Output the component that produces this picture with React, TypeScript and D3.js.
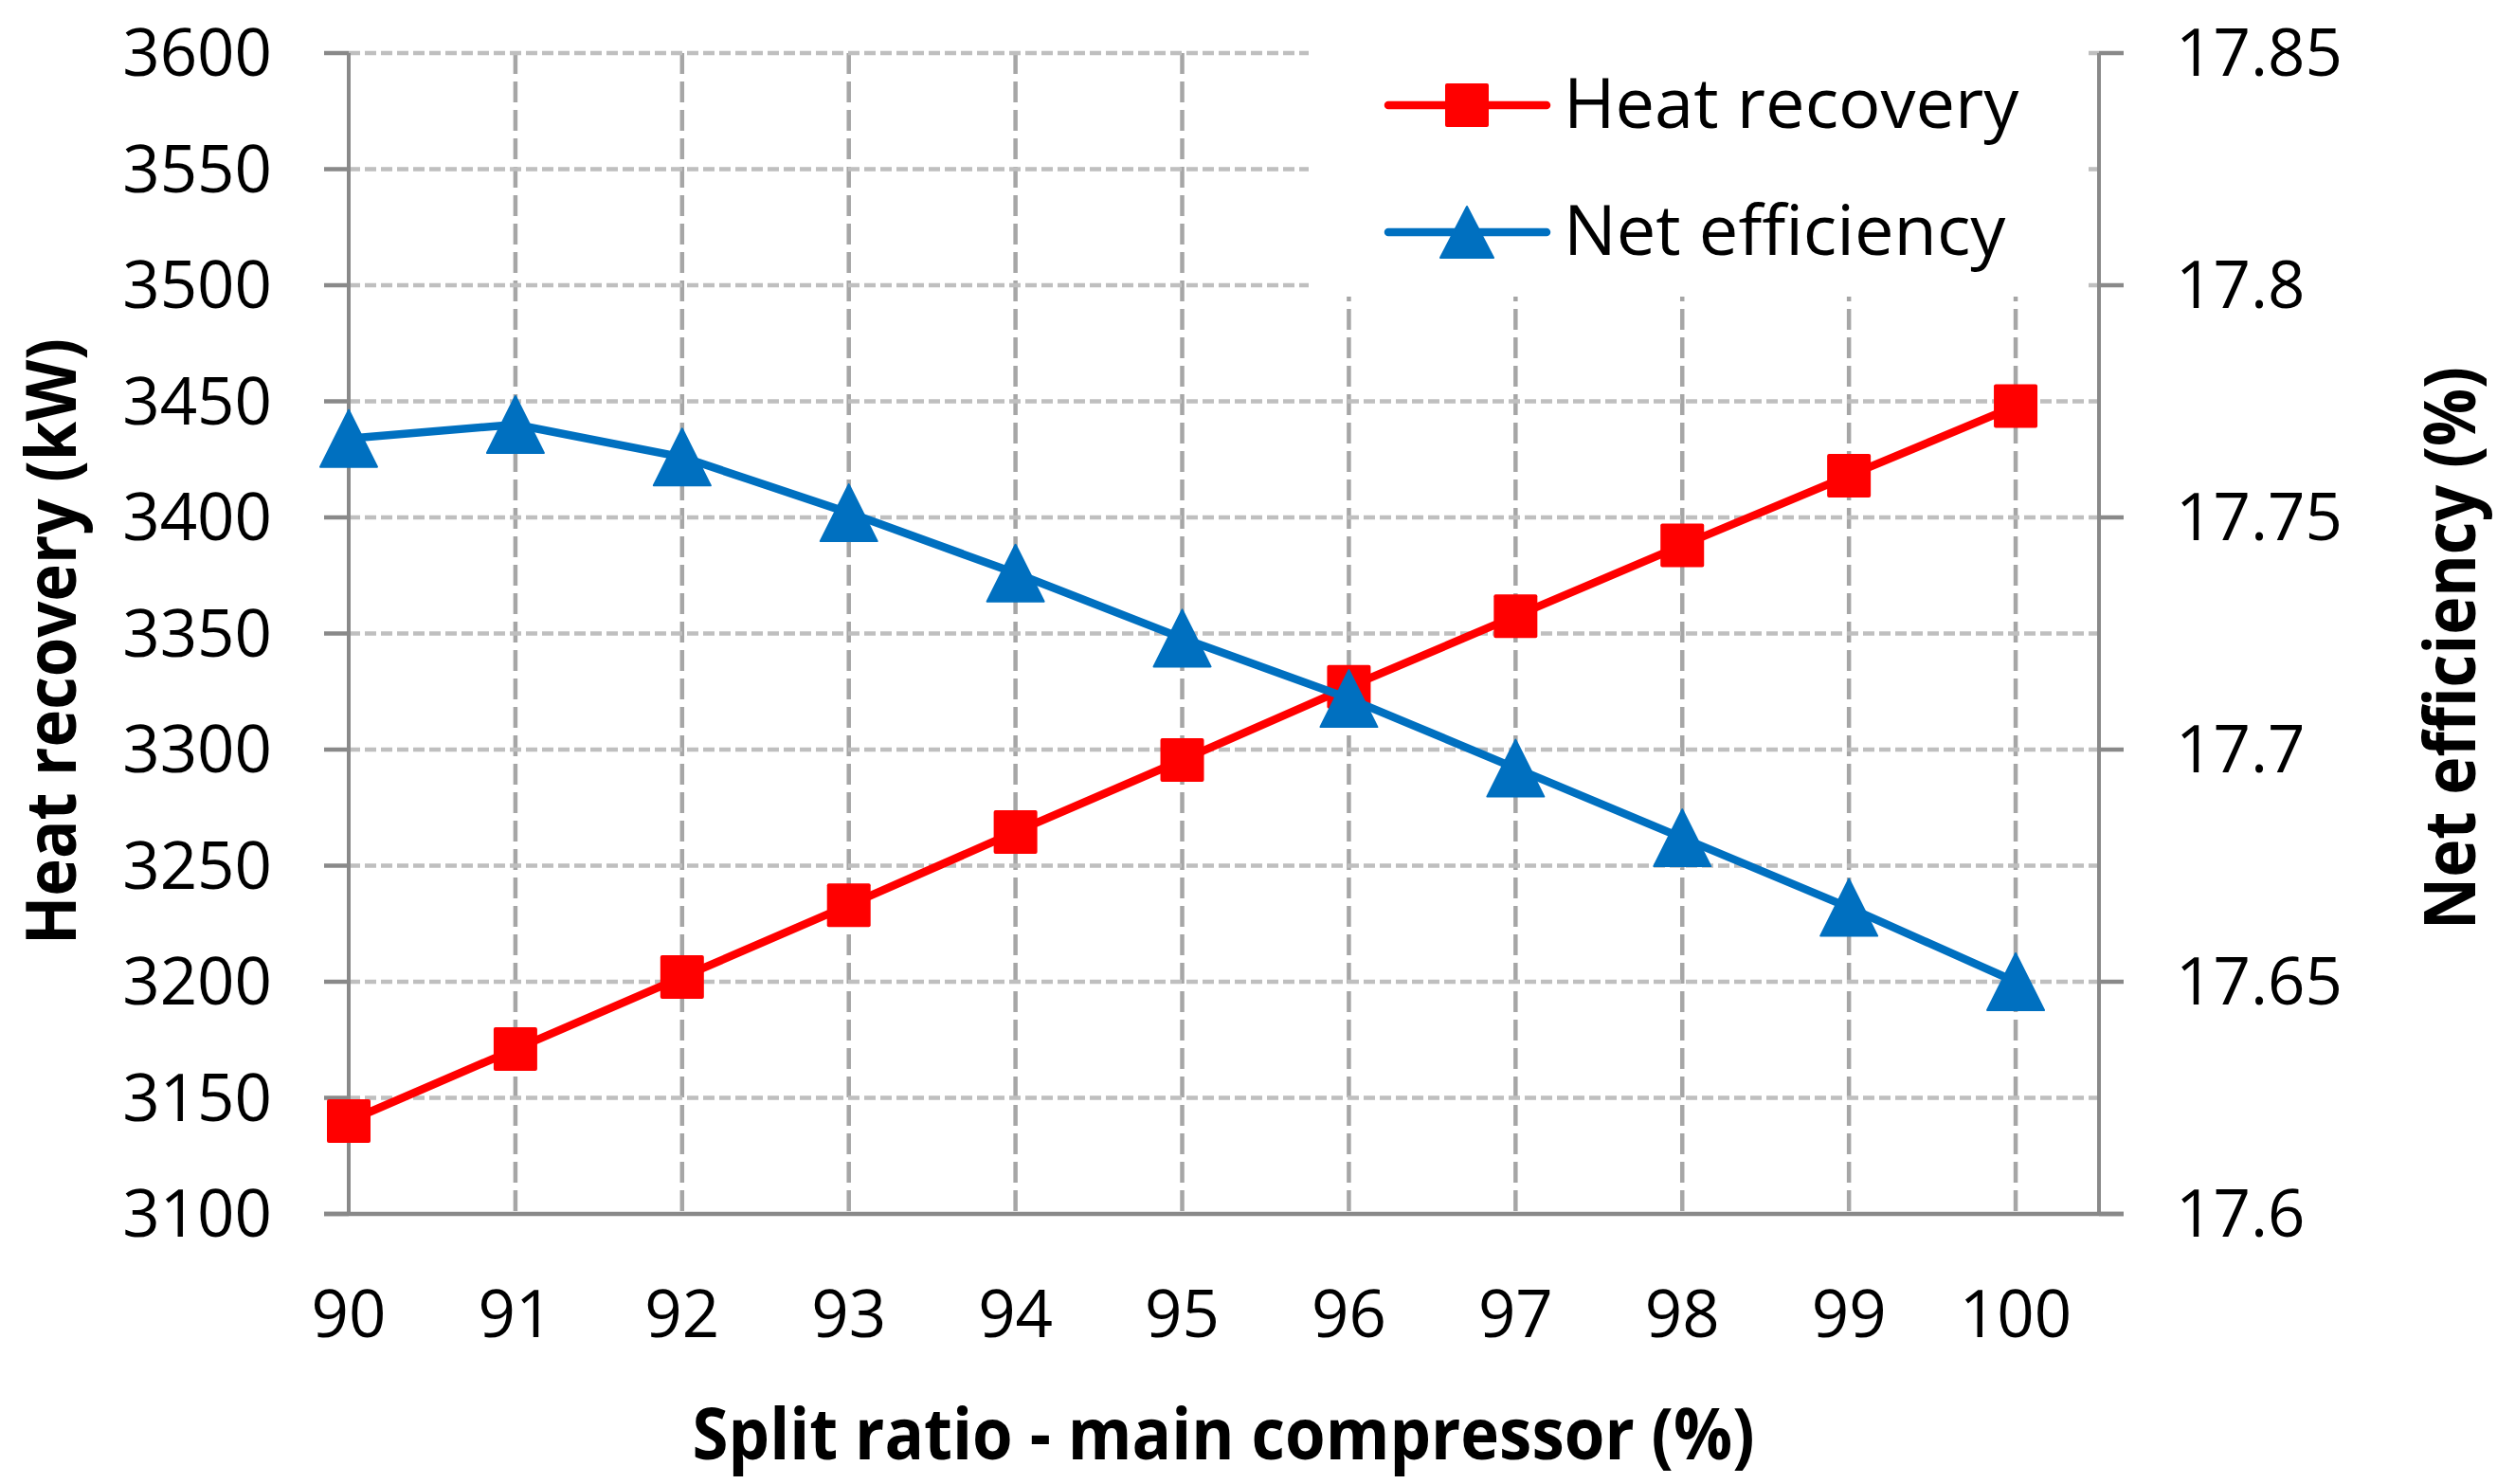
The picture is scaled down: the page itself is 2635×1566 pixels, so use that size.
import React from 'react';
import * as d3 from 'd3';

const splitRatio = [90, 91, 92, 93, 94, 95, 96, 97, 98, 99, 100];
const heatRecovery = [3140, 3171, 3202, 3233, 3264.5, 3295.5, 3327, 3357.5, 3388, 3418, 3448];
const netEfficiency = [17.767, 17.77, 17.763, 17.751, 17.738, 17.724, 17.711, 17.696, 17.681, 17.666, 17.65];
const leftTicks = [3100, 3150, 3200, 3250, 3300, 3350, 3400, 3450, 3500, 3550, 3600];
const rightTicks = [17.6, 17.65, 17.7, 17.75, 17.8, 17.85];
const rightTickLabels = ['17.6', '17.65', '17.7', '17.75', '17.8', '17.85'];
const seriesNames = ['Heat recovery', 'Net efficiency'];

const W = 2635;
const H = 1566;
const margin = { top: 56, right: 420, bottom: 285, left: 368 };
const FONT = "'Open Sans', 'Noto Sans', sans-serif";
const RED = '#ff0000';
const BLUE = '#0070c0';
const AXIS = '#898989';

const trianglePath = (cx: number, cy: number, w: number, h: number) =>
  `M${cx},${cy - h / 2}L${cx + w / 2},${cy + h / 2}L${cx - w / 2},${cy + h / 2}Z`;

const App: React.FC = () => {
  const innerWidth = W - margin.left - margin.right;
  const innerHeight = H - margin.top - margin.bottom;

  const x = d3.scaleLinear().domain([90, 100.5]).range([margin.left, margin.left + innerWidth]);
  const yLeft = d3.scaleLinear().domain([3100, 3600]).range([margin.top + innerHeight, margin.top]);
  const yRight = d3.scaleLinear().domain([17.6, 17.85]).range([margin.top + innerHeight, margin.top]);

  const x0 = margin.left;
  const x1 = margin.left + innerWidth;
  const yTop = margin.top;
  const yBot = margin.top + innerHeight;

  const heatLine = d3.line<number>()
    .x((_, i) => x(splitRatio[i]))
    .y(d => yLeft(d))(heatRecovery) || '';
  const effLine = d3.line<number>()
    .x((_, i) => x(splitRatio[i]))
    .y(d => yRight(d))(netEfficiency) || '';

  const sq = 46;
  const triW = 60;
  const triH = 60;

  // legend box sits over the upper-right grid
  const legend = { x: 1381, y: 40, w: 823, h: 273 };

  return (
    <svg
      width={W}
      height={H}
      viewBox={`0 0 ${W} ${H}`}
      style={{ position: 'absolute', left: 0, top: 0, background: '#fff' }}
    >
      <rect x={0} y={0} width={W} height={H} fill="#fff" />

      {/* Vertical grid lines */}
      {splitRatio.slice(1).map(v => (
        <line
          key={`vg${v}`}
          x1={x(v)}
          x2={x(v)}
          y1={yTop}
          y2={yBot}
          stroke="#a6a6a6"
          strokeWidth={4.5}
          strokeDasharray="22,8"
        />
      ))}

      {/* Horizontal grid lines */}
      {leftTicks.slice(1).map(t => (
        <line
          key={`hg${t}`}
          x1={x0}
          x2={x1}
          y1={yLeft(t)}
          y2={yLeft(t)}
          stroke="#bfbfbf"
          strokeWidth={4.5}
          strokeDasharray="12,5"
        />
      ))}

      {/* Legend background */}
      <rect x={legend.x} y={legend.y} width={legend.w} height={legend.h} fill="#fff" />

      {/* Axes */}
      <line x1={x0} x2={x0} y1={yTop} y2={yBot} stroke={AXIS} strokeWidth={4} />
      <line x1={x1} x2={x1} y1={yTop} y2={yBot} stroke={AXIS} strokeWidth={4} />
      <line x1={x0 - 26} x2={x1 + 26} y1={yBot} y2={yBot} stroke={AXIS} strokeWidth={4.5} />
      {leftTicks.map(t => (
        <line key={`lt${t}`} x1={x0 - 26} x2={x0} y1={yLeft(t)} y2={yLeft(t)} stroke={AXIS} strokeWidth={4.5} />
      ))}
      {rightTicks.map(t => (
        <line key={`rt${t}`} x1={x1} x2={x1 + 26} y1={yRight(t)} y2={yRight(t)} stroke={AXIS} strokeWidth={4.5} />
      ))}

      {/* Tick labels */}
      {leftTicks.map(t => (
        <text
          key={`ll${t}`}
          x={287}
          y={yLeft(t)}
          dy="0.35em"
          textAnchor="end"
          fontFamily={FONT}
          fontSize={69}
          fill="#000"
        >
          {t}
        </text>
      ))}
      {rightTicks.map((t, i) => (
        <text
          key={`rl${t}`}
          x={2296}
          y={yRight(t)}
          dy="0.35em"
          textAnchor="start"
          fontFamily={FONT}
          fontSize={69}
          fill="#000"
        >
          {rightTickLabels[i]}
        </text>
      ))}
      {splitRatio.map(v => (
        <text
          key={`xl${v}`}
          x={x(v)}
          y={1411}
          textAnchor="middle"
          fontFamily={FONT}
          fontSize={69}
          fill="#000"
        >
          {v}
        </text>
      ))}

      {/* Axis titles */}
      <text
        x={1291}
        y={1540}
        textAnchor="middle"
        fontFamily={FONT}
        fontWeight={700}
        fontSize={76}
        textLength={1121}
        lengthAdjust="spacingAndGlyphs"
      >
        Split ratio - main compressor (%)
      </text>
      <text
        transform="translate(80, 677) rotate(-90)"
        textAnchor="middle"
        fontFamily={FONT}
        fontWeight={700}
        fontSize={74}
        textLength={640}
        lengthAdjust="spacingAndGlyphs"
      >
        Heat recovery (kW)
      </text>
      <text
        transform="translate(2612, 684) rotate(-90)"
        textAnchor="middle"
        fontFamily={FONT}
        fontWeight={700}
        fontSize={76}
        textLength={594}
        lengthAdjust="spacingAndGlyphs"
      >
        Net efficiency (%)
      </text>

      {/* Heat recovery series */}
      <path d={heatLine} fill="none" stroke={RED} strokeWidth={8.5} strokeLinejoin="round" />
      {heatRecovery.map((d, i) => (
        <rect
          key={`hr${i}`}
          x={x(splitRatio[i]) - sq / 2}
          y={yLeft(d) - sq / 2}
          width={sq}
          height={sq}
          rx={2}
          fill={RED}
        />
      ))}

      {/* Net efficiency series */}
      <path d={effLine} fill="none" stroke={BLUE} strokeWidth={8.5} strokeLinejoin="round" />
      {netEfficiency.map((d, i) => (
        <path
          key={`ne${i}`}
          d={trianglePath(x(splitRatio[i]), yRight(d), triW, triH)}
          fill={BLUE}
          stroke={BLUE}
          strokeWidth={2}
          strokeLinejoin="round"
        />
      ))}

      {/* Legend */}
      <g>
        <line x1={1465} x2={1632} y1={111} y2={111} stroke={RED} strokeWidth={8.5} strokeLinecap="round" />
        <rect x={1548 - sq / 2} y={111 - sq / 2} width={sq} height={sq} rx={2} fill={RED} />
        <text x={1650} y={135} fontFamily={FONT} fontSize={74} fill="#000">
          {seriesNames[0]}
        </text>
        <line x1={1465} x2={1632} y1={245} y2={245} stroke={BLUE} strokeWidth={8.5} strokeLinecap="round" />
        <path d={trianglePath(1548, 245, 56, 54)} fill={BLUE} stroke={BLUE} strokeWidth={2} strokeLinejoin="round" />
        <text x={1650} y={269} fontFamily={FONT} fontSize={74} fill="#000">
          {seriesNames[1]}
        </text>
      </g>
    </svg>
  );
};

export default App;
